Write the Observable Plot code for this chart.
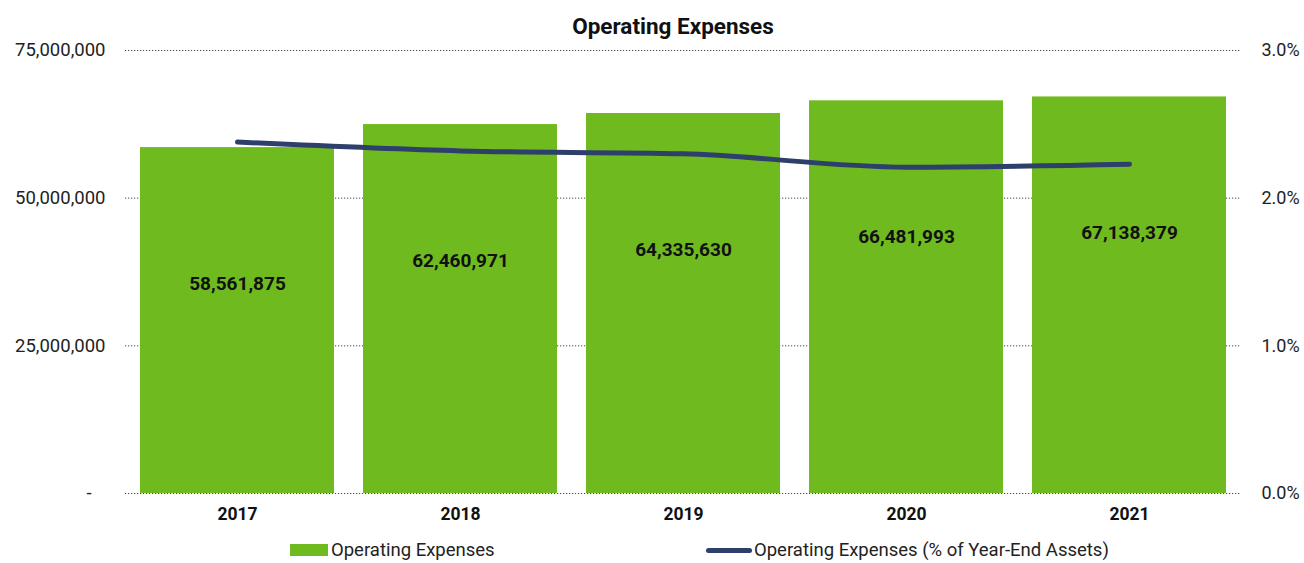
<!DOCTYPE html>
<html>
<head>
<meta charset="utf-8">
<script src="https://cdn.jsdelivr.net/npm/d3@7"></script>
<script src="https://cdn.jsdelivr.net/npm/@observablehq/plot@0.6"></script>
<style>
  body { margin: 0; background: #fff; font-family: Roboto, "Liberation Sans", sans-serif; }
  #wrap { position: relative; width: 1304px; height: 563px; overflow: hidden; }
  #title { position: absolute; top: 13px; left: 0; width: 1346px; text-align: center; font-weight: bold; font-size: 22.5px; color: #111; }
  #chart { position: absolute; top: 40px; left: 0; }
  #chart svg text { white-space: pre; }
  .leg { position: absolute; top: 539px; font-size: 18.5px; color: #222; display: flex; align-items: center; }
  .sw-bar { width: 38px; height: 12px; background: #6fba1f; margin-right: 3px; }
  .sw-line { width: 46px; height: 5px; background: #2d3f6a; border-radius: 3px; margin-right: 2px; }
</style>
</head>
<body>
<div id="wrap">
  <div id="title">Operating Expenses</div>
  <div id="chart"></div>
  <div class="leg" style="left:290px"><div class="sw-bar"></div>Operating Expenses</div>
  <div class="leg" style="left:706px"><div class="sw-line"></div>Operating Expenses (% of Year-End Assets)</div>
</div>
<script>
const years = ["2017", "2018", "2019", "2020", "2021"];
const expenses = [58561875, 62460971, 64335630, 66481993, 67138379];
const pctOfAssets = [2.38, 2.32, 2.30, 2.21, 2.23];
const leftTicks = [0, 25000000, 50000000, 75000000];
const rightTickLabels = ["0.0%", "1.0%", "2.0%", "3.0%"];

const yMax = 75000000;
const pctMax = 3.0;
const data = years.map((y, i) => ({year: y, value: expenses[i], pct: pctOfAssets[i], pctScaled: pctOfAssets[i] / pctMax * yMax}));
const fmt = d3.format(",");

const chart = Plot.plot({
  width: 1304,
  height: 490,
  marginLeft: 125,
  marginRight: 63,
  marginTop: 10,
  marginBottom: 37,
  style: {fontFamily: "Roboto, 'Liberation Sans', sans-serif", background: "#fff"},
  x: {domain: years, paddingInner: 0.13, paddingOuter: 0.065, label: null},
  y: {domain: [0, yMax], label: null},
  marks: [
    Plot.ruleY(leftTicks, {stroke: "#444", strokeDasharray: "1.2,1.8", strokeWidth: 1}),
    Plot.barY(data, {x: "year", y: "value", fill: "#6fba1f"}),
    Plot.line(data, {x: "year", y: "pctScaled", stroke: "#2d3f6a", strokeWidth: 5, curve: "monotone-x", strokeLinecap: "round"}),
    Plot.text(data, {x: "year", y: "value", text: d => fmt(d.value), dy: 136, fontSize: 19, fontWeight: "bold", fill: "#111"}),
    Plot.axisX({tickSize: 0, tickPadding: 14, fontSize: 17.5, fontWeight: "bold", color: "#111", label: null}),
    Plot.axisY({anchor: "left", ticks: leftTicks, tickSize: 0, tickPadding: 20, fontSize: 18.5, color: "#222", label: null,
      tickFormat: d => d === 0 ? "-   " : fmt(d)}),
    Plot.axisY({anchor: "right", ticks: leftTicks, tickSize: 0, tickPadding: 20, fontSize: 18, color: "#222", label: null,
      tickFormat: d => rightTickLabels[leftTicks.indexOf(d)]})
  ]
});
document.getElementById("chart").appendChild(chart);
</script>
</body>
</html>
